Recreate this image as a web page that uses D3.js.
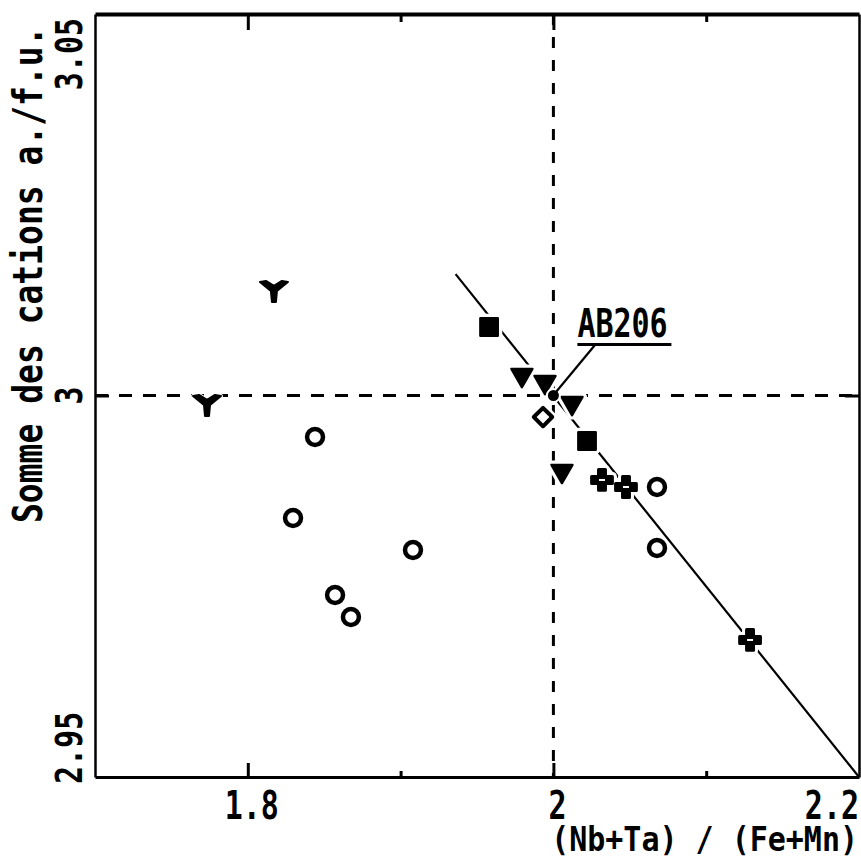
<!DOCTYPE html>
<html>
<head>
<meta charset="utf-8">
<script src="https://cdn.jsdelivr.net/npm/d3@7"></script>
<style>
  html, body { margin: 0; padding: 0; background: #fff; }
  svg { display: block; }
  text { font-family: "DejaVu Sans Mono", "Liberation Mono", monospace; font-weight: bold; fill: #000; }
</style>
</head>
<body>
<svg id="chart" width="861" height="861"></svg>
<script>
// ---------------- data ----------------
const xTickLabels = [1.8, 2, 2.2];
const xMajorTicks = [1.8, 2.0];
const xMinorTicks = [1.9, 2.1];
const yTickLabels = [2.95, 3, 3.05];
const yMajorTicks = [3.0];

// open circles
const circleX = [1.8440, 1.8296, 1.9081, 1.8571, 1.8675, 2.0678, 2.0678];
const circleY = [2.99456, 2.98394, 2.97975, 2.97385, 2.97097, 2.98801, 2.98001];
// filled squares
const squareX = [1.9579, 2.0220];
const squareY = [3.00898, 2.99404];
// filled down-triangles
const triX = [1.9794, 1.9945, 2.0122, 2.0056];
const triY = [3.00269, 3.00177, 2.99902, 2.99011];
// wye markers
const wyeX = [1.8171, 1.7733];
const wyeY = [3.01370, 2.99876];
// open diamond
const diamondX = [1.9932];
const diamondY = [2.99718];
// crosses
const crossX = [2.0318, 2.0475, 2.1287];
const crossY = [2.98893, 2.98801, 2.96796];
// reference point AB206
const refX = [2.0];
const refY = [3.0];
const refLabel = ["AB206"];
// trend line
const lineX = [1.936, 2.2];
const lineY = [3.0159, 2.95];
// reference dashed lines
const vRef = 2.0;
const hRef = 3.0;

const xTitle = "(Nb+Ta) / (Fe+Mn)";
const yTitle = "Somme des cations a./f.u.";

// ---------------- layout ----------------
const svg = d3.select("#chart");
const L = 95, R = 859, T = 14, B = 777;
const x = d3.scaleLinear().domain([1.7, 2.2]).range([L, R]);
const y = d3.scaleLinear().domain([2.95, 3.05]).range([B, T]);

const zip = (a, b) => a.map((v, i) => [v, b[i]]);

// dashed reference lines
svg.append("line")
  .attr("x1", x(vRef)).attr("x2", x(vRef)).attr("y1", y(3.05)).attr("y2", y(2.95))
  .attr("stroke", "#000").attr("stroke-width", 3).attr("stroke-dasharray", "11,12");
svg.append("line")
  .attr("x1", x(1.7)).attr("x2", x(2.2)).attr("y1", y(hRef)).attr("y2", y(hRef))
  .attr("stroke", "#000").attr("stroke-width", 3).attr("stroke-dasharray", "13,11");

// trend line
svg.append("path")
  .datum(zip(lineX, lineY))
  .attr("d", d3.line().x(d => x(d[0])).y(d => y(d[1])))
  .attr("fill", "none").attr("stroke", "#000").attr("stroke-width", 2.2);

// ---------------- axes / frame ----------------
function noLabels(a) { return a.tickFormat(() => ""); }
const gB = svg.append("g").attr("transform", `translate(0,${B})`);
gB.call(noLabels(d3.axisBottom(x).tickValues(xMajorTicks).tickSizeInner(-14).tickSizeOuter(0)));
gB.append("g").call(noLabels(d3.axisBottom(x).tickValues(xMinorTicks).tickSizeInner(-6).tickSizeOuter(0)))
  .select(".domain").remove();
gB.select(".domain").attr("stroke-width", 3);

const gT = svg.append("g").attr("transform", `translate(0,${T})`);
gT.call(noLabels(d3.axisTop(x).tickValues(xMajorTicks).tickSizeInner(-16).tickSizeOuter(0)));
gT.append("g").call(noLabels(d3.axisTop(x).tickValues(xMinorTicks).tickSizeInner(-8).tickSizeOuter(0)))
  .select(".domain").remove();
gT.select(".domain").attr("stroke-width", 4);

const gL = svg.append("g").attr("transform", `translate(${L},0)`);
gL.call(noLabels(d3.axisLeft(y).tickValues(yMajorTicks).tickSizeInner(-14).tickSizeOuter(0)));
gL.select(".domain").attr("stroke-width", 2.5);

const gR = svg.append("g").attr("transform", `translate(${R},0)`);
gR.call(noLabels(d3.axisRight(y).tickValues(yMajorTicks).tickSizeInner(-14).tickSizeOuter(0)));
gR.select(".domain").attr("stroke-width", 2.5);

svg.selectAll(".tick line").attr("stroke-width", 3);

// ---------------- tick labels ----------------
const fmtX = d => (d === 2 ? "2" : d3.format(".1f")(d));
svg.append("g").selectAll("g").data(xTickLabels).join("g")
  .attr("transform", (d, i) => `translate(${i === xTickLabels.length - 1 ? R : x(d) + 4},819) scale(1,1.28)`)
  .append("text")
  .attr("text-anchor", (d, i) => i === xTickLabels.length - 1 ? "end" : "middle")
  .attr("font-size", 30)
  .text(fmtX);

const fmtY = d => (d === 3 ? "3" : d3.format(".2f")(d));
svg.append("g").selectAll("g").data(yTickLabels).join("g")
  .attr("transform", (d, i) => {
    const py = i === 0 ? 784 : (i === yTickLabels.length - 1 ? 18 : y(d));
    return `translate(82,${py}) rotate(-90) scale(1,1.25)`;
  })
  .append("text")
  .attr("text-anchor", (d, i) => i === 0 ? "start" : (i === yTickLabels.length - 1 ? "end" : "middle"))
  .attr("font-size", 30)
  .text(fmtY);

// axis titles
svg.append("g").attr("transform", `translate(858,851) scale(1,1.1)`)
  .append("text").attr("text-anchor", "end").attr("font-size", 30).text(xTitle);
svg.append("g").attr("transform", `translate(42,523) rotate(-90) scale(1,1.25)`)
  .append("text").attr("text-anchor", "start").attr("font-size", 33).text(yTitle);

// ---------------- markers ----------------
const wyeType = {
  draw(ctx, size) {
    const s = Math.sqrt(size) / 20;
    const p = [[-14, -9], [-8, -10], [0, -5], [8, -10], [14, -9], [3, 0], [2, 11], [-2, 11], [-3, 0]];
    ctx.moveTo(p[0][0] * s, p[0][1] * s);
    for (let i = 1; i < p.length; i++) ctx.lineTo(p[i][0] * s, p[i][1] * s);
    ctx.closePath();
  }
};

const gM = svg.append("g");
function plot(xs, ys, type, size, opts) {
  const pts = zip(xs, ys);
  const rot = opts.rotate || 0;
  const sym = d3.symbol().type(type).size(size);
  // white halo to break the trend line around the marker
  gM.append("g").selectAll("path").data(pts).join("path")
    .attr("transform", d => `translate(${x(d[0])},${y(d[1])}) rotate(${rot})`)
    .attr("d", sym)
    .attr("fill", "#fff").attr("stroke", "#fff").attr("stroke-width", opts.halo || 9)
    .attr("stroke-linejoin", "round");
  gM.append("g").selectAll("path").data(pts).join("path")
    .attr("transform", d => `translate(${x(d[0])},${y(d[1])}) rotate(${rot})`)
    .attr("d", sym)
    .attr("fill", opts.fill)
    .attr("stroke", "#000").attr("stroke-width", opts.sw)
    .attr("stroke-linejoin", "round");
}

plot(squareX, squareY, d3.symbolSquare, 300, { fill: "#000", sw: 2.5 });
plot(triX, triY, d3.symbolTriangle, 190, { fill: "#000", sw: 2.5, rotate: 180 });
plot(circleX, circleY, d3.symbolCircle, 200, { fill: "#fff", sw: 4.5 });
plot(diamondX, diamondY, d3.symbolSquare, 170, { fill: "#fff", sw: 4, rotate: 45 });
plot(wyeX, wyeY, wyeType, 400, { fill: "#000", sw: 2, halo: 4 });
plot(crossX, crossY, d3.symbolCross, 240, { fill: "#000", sw: 3 });
// slit in the middle of the crosses
gM.append("g").selectAll("rect").data(zip(crossX, crossY)).join("rect")
  .attr("x", d => x(d[0]) - 3).attr("y", d => y(d[1]) - 1)
  .attr("width", 6).attr("height", 2).attr("fill", "#fff");

// reference point AB206
const ref = zip(refX, refY);
gM.append("g").selectAll("circle").data(ref).join("circle")
  .attr("cx", d => x(d[0])).attr("cy", d => y(d[1])).attr("r", 6.5)
  .attr("fill", "#000").attr("stroke", "#fff").attr("stroke-width", 2);
const ann = svg.append("g");
ref.forEach((d, i) => {
  const px = x(d[0]), py = y(d[1]);
  ann.append("line").attr("x1", px + 3).attr("y1", py - 4).attr("x2", px + 42).attr("y2", py - 51)
    .attr("stroke", "#000").attr("stroke-width", 2.2);
  ann.append("line").attr("x1", px + 24).attr("y1", py - 51).attr("x2", px + 118).attr("y2", py - 51)
    .attr("stroke", "#000").attr("stroke-width", 3);
  ann.append("g").attr("transform", `translate(${px + 24},${py - 59}) scale(1,1.3)`)
    .append("text").attr("font-size", 30).text(refLabel[i]);
});
</script>
</body>
</html>
